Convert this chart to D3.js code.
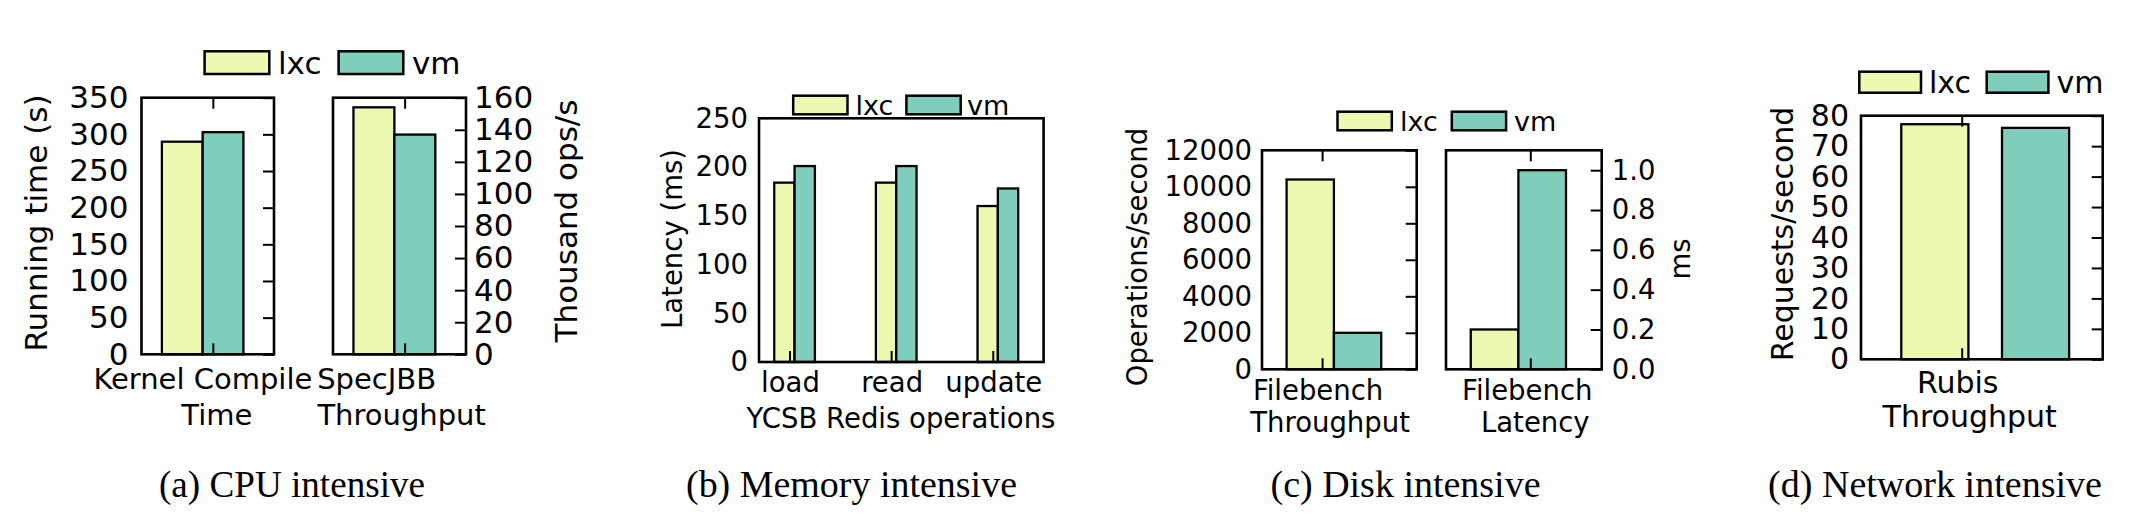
<!DOCTYPE html>
<html><head><meta charset="utf-8">
<script src="https://cdn.jsdelivr.net/npm/d3@7"></script>
<style>body{margin:0;background:#fff} svg{display:block}</style>
</head><body>
<script>
// ---------------- data ----------------
const seriesNames = ["lxc", "vm"];
const cpuCategories = [["Kernel Compile", "Time"], ["SpecJBB", "Throughput"]];
const kernelCompileTime = [290, 303];        // lxc, vm  (s)
const specJBBThroughput = [154, 137];        // lxc, vm  (thousand ops/s)
const redisOps = ["load", "read", "update"];
const redisLxc = [184, 184, 160];            // ms
const redisVm = [201, 201, 178];             // ms
const diskCategories = [["Filebench", "Throughput"], ["Filebench", "Latency"]];
const filebenchThroughput = [10400, 2000];   // lxc, vm  ops/s
const filebenchLatency = [0.2, 1.0];         // lxc, vm  ms
const netCategory = ["Rubis", "Throughput"];
const rubisThroughput = [77.2, 76];          // lxc, vm  req/s
const ticksKernel = [0, 50, 100, 150, 200, 250, 300, 350];
const ticksSpec = [0, 20, 40, 60, 80, 100, 120, 140, 160];
const ticksRedis = [0, 50, 100, 150, 200, 250];
const ticksFileTp = [0, 2000, 4000, 6000, 8000, 10000, 12000];
const ticksFileLat = [0, 0.2, 0.4, 0.6, 0.8, 1.0];
const ticksRubis = [0, 10, 20, 30, 40, 50, 60, 70, 80];
const captions = ["(a) CPU intensive", "(b) Memory intensive", "(c) Disk intensive", "(d) Network intensive"];

// ---------------- style ----------------
const colors = { lxc: "#edf8b1", vm: "#7fcdbb" };
const FONT = "DejaVu Sans";

const svg = d3.select("body").append("svg").attr("width", 2144).attr("height", 530)
  .style("font-family", FONT);

function subplot(o) {
  const g = svg.append("g");
  const x = d3.scaleLinear().domain(o.xDomain).range([o.x0, o.x1]);
  const y = d3.scaleLinear().domain([0, o.yMax]).range([o.y1, o.y0]);
  // bars
  o.bars.forEach(b => {
    g.append("rect")
      .attr("x", x(b.pos)).attr("width", x(b.pos + b.w) - x(b.pos))
      .attr("y", y(b.v)).attr("height", y(0) - y(b.v))
      .attr("fill", colors[b.s]).attr("stroke", "#000").attr("stroke-width", 2.3);
  });
  // y tick labels
  const labAxis = (o.ySide === "left" ? d3.axisLeft(y) : d3.axisRight(y))
    .tickValues(o.yTicks).tickSize(0).tickPadding(o.yPad).tickFormat(o.yFmt || d3.format("d"));
  const la = g.append("g").attr("transform", `translate(${o.ySide === "left" ? o.x0 : o.x1},0)`).call(labAxis);
  la.select(".domain").remove();
  la.selectAll("text").attr("font-size", o.fs).attr("font-family", FONT).attr("fill", "#000");
  // inward ticks on right side
  if (o.rightTicks) {
    const ra = g.append("g").attr("transform", `translate(${o.x1},0)`)
      .call(d3.axisLeft(y).tickValues(o.yTicks).tickSize(11).tickFormat(""));
    ra.select(".domain").remove();
    ra.selectAll("line").attr("stroke", "#000").attr("stroke-width", 2);
  }
  // inward x ticks
  const xa = g.append("g").attr("transform", `translate(0,${o.y1})`)
    .call(d3.axisBottom(x).tickValues(o.xTicks).tickSize(-11).tickFormat(""));
  xa.select(".domain").remove();
  xa.selectAll("line").attr("stroke", "#000").attr("stroke-width", 2);
  if (o.topTicks) {
    const ta = g.append("g").attr("transform", `translate(0,${o.y0})`)
      .call(d3.axisTop(x).tickValues(o.xTicks).tickSize(-11).tickFormat(""));
    ta.select(".domain").remove();
    ta.selectAll("line").attr("stroke", "#000").attr("stroke-width", 2);
  }
  // frame
  g.append("rect").attr("x", o.x0).attr("y", o.y0).attr("width", o.x1 - o.x0).attr("height", o.y1 - o.y0)
    .attr("fill", "none").attr("stroke", "#000").attr("stroke-width", 2.6);
  // x tick labels (multi-line)
  o.xLabels.forEach((lines, i) => {
    lines.forEach((t, j) => {
      g.append("text").attr("x", x(o.xTicks[i]) + o.lineDx[i][j]).attr("y", o.labelY[j])
        .attr("text-anchor", "middle").attr("font-size", o.xfs || o.fs).text(t);
    });
  });
  return { x, y };
}

function ylabel(txt, cx, cy, fs) {
  svg.append("text").attr("transform", `translate(${cx},${cy}) rotate(-90)`)
    .attr("text-anchor", "middle").attr("dy", "0.35em").attr("font-size", fs).text(txt);
}

function legend(items, fs) {
  items.forEach((it, i) => {
    svg.append("rect").attr("x", it.px).attr("y", it.py).attr("width", it.pw).attr("height", it.ph)
      .attr("fill", colors[seriesNames[i]]).attr("stroke", "#000").attr("stroke-width", 2.5);
    svg.append("text").attr("x", it.tx).attr("y", it.py + it.ph / 2).attr("dy", "0.36em")
      .attr("font-size", fs).text(seriesNames[i]);
  });
}

function pairBars(values, offsets, w) {
  return values.map((v, k) => ({ pos: offsets[k], w: w, v: v, s: seriesNames[k] }));
}

// ---------------- (a) CPU ----------------
subplot({
  x0: 141.5, x1: 274, y0: 97.7, y1: 354.3, xDomain: [-0.5, 2.75], yMax: 350,
  bars: pairBars(kernelCompileTime, [0, 1], 1), xTicks: [1.25],
  yTicks: ticksKernel, ySide: "left", yPad: 13, rightTicks: true, topTicks: true,
  fs: 31, xfs: 29, xLabels: [cpuCategories[0]], lineDx: [[-10, 4]], labelY: [389, 425]
});
subplot({
  x0: 333, x1: 466, y0: 97.7, y1: 354.3, xDomain: [-0.5, 2.75], yMax: 160,
  bars: pairBars(specJBBThroughput, [0, 1], 1), xTicks: [1.25],
  yTicks: ticksSpec, ySide: "right", yPad: 8, rightTicks: true, topTicks: true,
  fs: 31, xfs: 29, xLabels: [cpuCategories[1]], lineDx: [[-28, -3]], labelY: [389, 425]
});
ylabel("Running time (s)", 36, 223, 31);
ylabel("Thousand ops/s", 566, 221, 31);
legend([{ px: 204.6, py: 51.3, pw: 64.7, ph: 22.7, tx: 278 }, { px: 338.6, py: 51.3, pw: 64.7, ph: 22.7, tx: 412 }], 31);

// ---------------- (b) Memory ----------------
(function () {
  const bars = [];
  redisOps.forEach((op, i) => {
    bars.push({ pos: i, w: 0.2, v: redisLxc[i], s: "lxc" });
    bars.push({ pos: i + 0.2, w: 0.2, v: redisVm[i], s: "vm" });
  });
  subplot({
    x0: 759, x1: 1043.6, y0: 118.3, y1: 362, xDomain: [-0.15, 2.65], yMax: 250,
    bars: bars, xTicks: redisOps.map((d, i) => i + 0.15),
    yTicks: ticksRedis, ySide: "left", yPad: 11, rightTicks: false, topTicks: false,
    fs: 27.5, xLabels: redisOps.map(d => [d]), lineDx: redisOps.map(() => [1]), labelY: [392]
  });
})();
ylabel("Latency (ms)", 672.5, 239, 27.5);
svg.append("text").attr("x", 901).attr("y", 428).attr("text-anchor", "middle").attr("font-size", 27.5)
  .text("YCSB Redis operations");
legend([{ px: 793.2, py: 95.7, pw: 54.3, ph: 18.6, tx: 855.5 }, { px: 906.4, py: 95.7, pw: 54.3, ph: 18.6, tx: 967 }], 27);

// ---------------- (c) Disk ----------------
subplot({
  x0: 1262, x1: 1416.7, y0: 150.3, y1: 369.3, xDomain: [-0.52, 2.75], yMax: 12000,
  bars: pairBars(filebenchThroughput, [0, 1], 1), xTicks: [0.75],
  yTicks: ticksFileTp, ySide: "left", yPad: 10, rightTicks: true, topTicks: true,
  fs: 27.5, xLabels: [diskCategories[0]], lineDx: [[-4, 8]], labelY: [400, 432]
});
subplot({
  x0: 1446, x1: 1601.7, y0: 150.3, y1: 369.3, xDomain: [-0.52, 2.75], yMax: 1.1,
  bars: pairBars(filebenchLatency, [0, 1], 1), xTicks: [1.25],
  yTicks: ticksFileLat, ySide: "right", yPad: 10, rightTicks: true, topTicks: true, yFmt: d3.format(".1f"),
  fs: 27.5, xLabels: [diskCategories[1]], lineDx: [[-3, 5]], labelY: [400, 432]
});
ylabel("Operations/second", 1137.5, 257, 27.5);
ylabel("ms", 1680, 259, 27.5);
legend([{ px: 1337.5, py: 111.7, pw: 54.3, ph: 18.6, tx: 1400 }, { px: 1451.8, py: 111.7, pw: 54.3, ph: 18.6, tx: 1514 }], 27);

// ---------------- (d) Network ----------------
subplot({
  x0: 1861, x1: 2102.7, y0: 115.7, y1: 359.3, xDomain: [-0.6, 3.0], yMax: 80,
  bars: pairBars(rubisThroughput, [0, 1.5], 1), xTicks: [0.9],
  yTicks: ticksRubis, ySide: "left", yPad: 12, rightTicks: true, topTicks: true,
  fs: 30, xLabels: [netCategory], lineDx: [[-4, 8]], labelY: [393, 427]
});
ylabel("Requests/second", 1782, 234, 30);
legend([{ px: 1859.3, py: 71.7, pw: 61.7, ph: 21, tx: 1929 }, { px: 1986.7, py: 71.7, pw: 61.7, ph: 21, tx: 2056.5 }], 30);

// ---------------- captions ----------------
const capX = [292, 851.5, 1405.5, 1935];
const capW = [266, 331, 270, 334];
captions.forEach((c, i) => {
  svg.append("text").attr("x", capX[i]).attr("y", 497).attr("text-anchor", "middle")
    .attr("font-family", "Liberation Serif").attr("font-size", 37)
    .attr("textLength", capW[i]).attr("lengthAdjust", "spacingAndGlyphs").text(c);
});
</script>
</body></html>
